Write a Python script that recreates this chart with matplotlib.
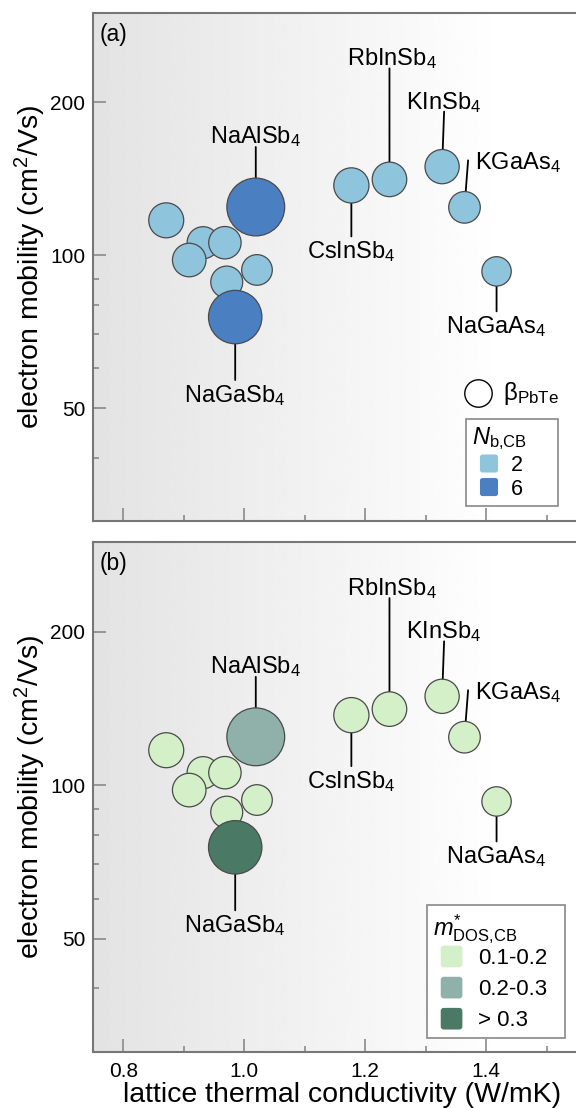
import numpy as np
import matplotlib
matplotlib.use("Agg")
import matplotlib.pyplot as plt
from matplotlib.patches import Patch, FancyBboxPatch
from matplotlib.legend_handler import HandlerPatch
from matplotlib.ticker import FixedLocator, NullFormatter, FixedFormatter

plt.rcParams['font.family'] = ['Liberation Sans', 'DejaVu Sans']
plt.rcParams['mathtext.fontset'] = 'custom'
plt.rcParams['mathtext.rm'] = 'Liberation Sans'
plt.rcParams['mathtext.it'] = 'Liberation Sans:italic'
plt.rcParams['mathtext.bf'] = 'Liberation Sans:bold'

# values
names = ['', '', '', '', '', '', 'CsInSb4', 'RbInSb4', 'KInSb4', 'KGaAs4',
         'NaGaAs4', 'NaGaSb4', 'NaAlSb4']
kappa = [0.871, 0.932, 0.968, 0.909, 0.971, 1.021, 1.177, 1.240, 1.327,
         1.364, 1.417, 0.985, 1.019]
mobility = [117.2, 105.9, 105.9, 97.9, 88.6, 93.6, 137.3, 141.1, 149.5,
            124.3, 93.0, 75.6, 124.5]
beta = [1.63, 1.37, 1.40, 1.50, 1.36, 1.25, 1.65, 1.59, 1.56, 1.33, 1.15,
        3.80, 4.45]  # relative to beta_PbTe
nb_cb = [2, 2, 2, 2, 2, 2, 2, 2, 2, 2, 2, 6, 6]
mdos_cb = ['0.1-0.2'] * 11 + ['> 0.3', '0.2-0.3']

nb_keys = [2, 6]
mdos_keys = ['0.1-0.2', '0.2-0.3', '> 0.3']
nb_colors = {2: '#8fc4dd', 6: '#4a80c2'}
mdos_colors = {'0.1-0.2': '#d3f0c9', '0.2-0.3': '#8fb1a9', '> 0.3': '#4a7a66'}

# label placement, pixels from bubble centre: text dx, text dy, ha, line dx, line dy
label_pos = {
    'NaAlSb4': (0, 64, 'center', 0, 60),
    'NaGaSb4': (0, -85, 'center', 0, -63),
    'RbInSb4': (2, 114, 'center', 0, 111),
    'KInSb4': (1.5, 58, 'center', 2, 55),
    'KGaAs4': (11, 38, 'left', 3.6, 47),
    'CsInSb4': (0, -73, 'center', 0, -51),
    'NaGaAs4': (0, -62, 'center', 0, -40),
}

PX = 0.72  # points per pixel at dpi 100
S_BASE = (2 * 13.7 * PX) ** 2
AX_W = 0.8485

fig = plt.figure(figsize=(5.76, 11.08), dpi=100)
ax_a = fig.add_axes([0.1615, 0.5298, AX_W, 0.4585])
ax_b = fig.add_axes([0.1615, 0.0505, AX_W, 0.4603])

grad = np.clip(np.linspace(0.89, 1.02, 256), 0, 1)[None, :]


def make_key(side):
    # rounded square legend key, right-aligned in the handle box
    def key(legend, orig_handle, xdescent, ydescent, width, height, fontsize):
        r = 0.14 * side
        cy = -ydescent + height / 2
        x0 = -xdescent + width - side
        return FancyBboxPatch((x0 + r, cy - side / 2 + r), side - 2 * r,
                              side - 2 * r, boxstyle='round,pad=%g' % r, lw=0)
    return {Patch: HandlerPatch(patch_func=key)}


def draw_panel(ax, colors, tag):
    ax.imshow(grad, extent=(0, 1, 0, 1), transform=ax.transAxes, aspect='auto',
              cmap='gray', vmin=0, vmax=1, zorder=0, interpolation='bilinear')
    ax.set_yscale('log')
    sizes = [b * S_BASE for b in beta]
    ax.scatter(kappa, mobility, s=sizes, c=colors, edgecolors='#4a4a4a',
               linewidths=0.9, zorder=3)
    for name, x, y in zip(names, kappa, mobility):
        if not name:
            continue
        tdx, tdy, ha, ldx, ldy = label_pos[name]
        ax.annotate('', xy=(x, y), xytext=(ldx * PX, ldy * PX),
                    textcoords='offset points',
                    arrowprops=dict(arrowstyle='-', shrinkA=0, shrinkB=0,
                                    lw=1.3, color='black'), zorder=2)
        ax.annotate(name[:-1] + '$_4$', xy=(x, y), xytext=(tdx * PX, tdy * PX),
                    textcoords='offset points', ha=ha, va='baseline',
                    fontsize=17, zorder=4)
    ax.set_xlim(0.75, 0.75 + AX_W * 5.76 / 6.05)
    ax.set_ylim(30, 300)
    ax.xaxis.set_major_locator(FixedLocator([0.8, 1.0, 1.2, 1.4]))
    ax.xaxis.set_minor_locator(FixedLocator([0.9, 1.1, 1.3, 1.5]))
    ax.yaxis.set_major_locator(FixedLocator([50, 100, 200]))
    ax.yaxis.set_major_formatter(FixedFormatter(['50', '100', '200']))
    ax.yaxis.set_minor_locator(FixedLocator([40, 60, 70, 80, 90]))
    ax.yaxis.set_minor_formatter(NullFormatter())
    ax.tick_params(which='both', direction='in', color='#8a8a8a', width=1.2,
                   labelsize=15, top=False, right=False)
    ax.tick_params(which='major', length=9.5)
    ax.tick_params(which='minor', length=4.5)
    ax.tick_params(axis='y', pad=5.5)
    ax.tick_params(axis='x', pad=7)
    for sp in ax.spines.values():
        sp.set_color('#777777')
        sp.set_linewidth(1.5)
    ax.spines['right'].set_visible(False)
    ax.set_ylabel('electron mobility (cm$^2$/Vs)', fontsize=20.5)
    ax.yaxis.set_label_coords(-0.093, 0.5)
    ax.text(0.0145, 0.957, tag, transform=ax.transAxes, fontsize=16.5,
            va='center', ha='left')


draw_panel(ax_a, [nb_colors[n] for n in nb_cb], '(a)')
draw_panel(ax_b, [mdos_colors[m] for m in mdos_cb], '(b)')

ax_a.tick_params(axis='x', labelbottom=False)
ax_b.set_xlabel('lattice thermal conductivity (W/mK)', fontsize=20.5)
ax_b.xaxis.set_label_coords(0.51, -0.058)

# beta_PbTe size key
ax_a.scatter([0.788], [0.251], s=S_BASE, transform=ax_a.transAxes,
             facecolors='white', edgecolors='black', linewidths=1.0, zorder=5)
ax_a.text(0.838, 0.2375, 'β$_{\\mathrm{PbTe}}$', transform=ax_a.transAxes,
          fontsize=17.5, va='baseline', ha='left')

handles_a = [Patch(facecolor=nb_colors[k]) for k in nb_keys]
leg_a = ax_a.legend(handles_a, [str(k) for k in nb_keys],
                    title='$N_{\\mathrm{b{,}CB}}$', loc='lower left',
                    bbox_to_anchor=(0.7626, 0.0295, 0.1895, 0.2), mode='expand',
                    borderaxespad=0, fontsize=15.5, title_fontsize=17,
                    alignment='left', handlelength=1.2, handleheight=0.82,
                    handletextpad=0.6, labelspacing=0.12, borderpad=0.3,
                    fancybox=False, edgecolor='#888888', facecolor='white',
                    framealpha=1, handler_map=make_key(13.0))
leg_a.get_frame().set_linewidth(1.2)
leg_a._legend_box.sep = 2

handles_b = [Patch(facecolor=mdos_colors[k]) for k in mdos_keys]
leg_b = ax_b.legend(handles_b, mdos_keys,
                    title='$m^{*}_{\\mathrm{DOS{,}CB}}$', loc='lower left',
                    bbox_to_anchor=(0.683, 0.0275, 0.283, 0.3), mode='expand',
                    borderaxespad=0, fontsize=16, title_fontsize=17,
                    alignment='left', handlelength=1.3, handleheight=0.95,
                    handletextpad=0.7, labelspacing=0.4, borderpad=0.3,
                    fancybox=False, edgecolor='#888888', facecolor='white',
                    framealpha=1, handler_map=make_key(15.6))
leg_b.get_frame().set_linewidth(1.2)
leg_b._legend_box.sep = 1

fig.savefig('out.png', dpi=100)
